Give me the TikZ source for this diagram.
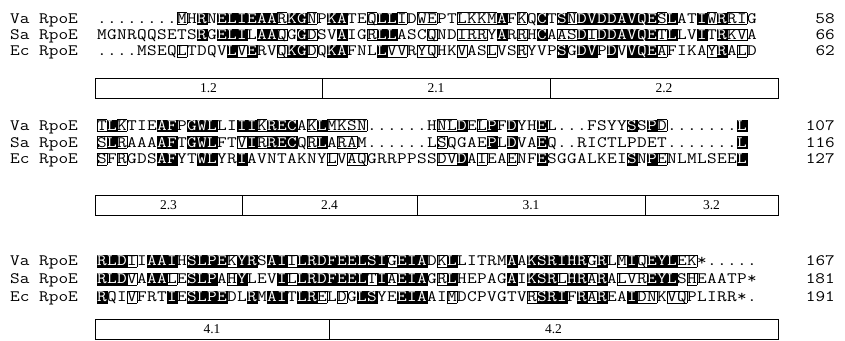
\documentclass[tikz,border=0pt]{standalone}
\usepackage{fontspec}
\usepackage{graphicx}
\newfontfamily\domfont{Liberation Serif}
\newcommand\seqchar[1]{\scalebox{1.18}[1]{#1}}
\tikzset{
  res/.style={inner sep=0pt, minimum width=10pt, minimum height=11.5pt,
    text height=9.7pt, text depth=0pt, font=\fontsize{15.9}{16}\selectfont\ttfamily},
  resblack/.style={res, fill=black, draw=black, line width=0.3pt, text=white},
  resline/.style={line width=0.6pt},
  seqname/.style={res, anchor=west},
  seqnum/.style={res, anchor=east},
  dombox/.style={draw, line width=0.8pt, minimum height=20pt, inner sep=0pt,
    font=\domfont\fontsize{13.5}{14}\selectfont},
}
% one residue: b = black, x = boxed, n = plain
\newcounter{rescol}
\newcommand\seqrow[4]{%
  \def\rowname{#1}\def\rowy{#2}\setcounter{rescol}{0}\def\prevmask{n}%
  \seqstep#3\relax#4\relax}
\def\seqstep#1#2\relax#3#4\relax{%
  \stepcounter{rescol}%
  \getnextmask#4\relax\relax
  \drawres{#1}{#3}%
  \def\prevmask{#3}%
  \ifx\relax#2\relax\else\seqstep#2\relax#4\relax\fi}
\def\getnextmask#1#2\relax{\def\nextmask{#1}}
\def\drawres#1#2{%
  \edef\resx{\the\numexpr92+10*\value{rescol}\relax}%
  \edef\resn{\rowname-\arabic{rescol}}%
  \if#2b%
    \node[resblack] (\resn) at (\resx,\rowy) {\seqchar{#1}};%
  \else
    \node[res] (\resn) at (\resx,\rowy) {\seqchar{#1}};%
  \fi
  \if#2x%
    \draw[resline] (\resn.north west) -- (\resn.north east)
      (\resn.south west) -- (\resn.south east);%
    \if\prevmask x\else\draw[resline] (\resn.north west) -- (\resn.south west);\fi
    \if\nextmask x\else\draw[resline] (\resn.north east) -- (\resn.south east);\fi
  \fi}

\begin{document}
\begin{tikzpicture}[x=1pt,y=-1pt]
\useasboundingbox (0,0) rectangle (845,340);

% residues 1-66
\node[seqname] (name-va1) at (10,18.5) {\seqchar{Va RpoE}};
\node[seqname] (name-sa1) at (10,34.8) {\seqchar{Sa RpoE}};
\node[seqname] (name-ec1) at (10,51.1) {\seqchar{Ec RpoE}};
\seqrow{va1}{18.5}{........MH RNELIEAARK GNPKATEQLL IDWEPTLKKM AFKQCTSNDV DDAVQESLAT IWRRIG}
                  {nnnnnnnnxn bnbbbbbbxb bxnbbnnxbb xnxxnnxxxx bnxnbnbxbb bbbbbbxbnn bxbxxn}
\seqrow{sa1}{34.8}{MGNRQQSETS RGELILAAQG GDSVAIGRLL ASCQNDIRRY ARRHCAASDI DDAVQETLLV ITRKVA}
                  {nnnnnnnnnn bnbbbnbbxn bxnnbnnxbb nnnxnnxxxn bnxnbnxxbx bbbbbbxbnn bnbxxn}
\seqrow{ec1}{51.1}{....MSEQLT DQVLVERVQK GDQKAFNLLV VRYQHKVASL VSRYVPSGDV PDVVQEAFIK AYRALD}
                  {nnnnnnnnxn nnnbxbnnxb bxnbbnnnbx xnxxnnxnnx nnxnnnbnbb nbnbbbxnnn nxbnxn}
\node[seqnum] (num-va1) at (835,18.5) {\seqchar{58}};
\node[seqnum] (num-sa1) at (835,34.8) {\seqchar{66}};
\node[seqnum] (num-ec1) at (835,51.1) {\seqchar{62}};
\foreach \xa/\xb/\lab [count=\k] in {95/322/1.2, 322/550/2.1, 550/778/2.2}
  \node[dombox, minimum width={\xb-\xa}] (dom1-\k) at ({(\xa+\xb)/2},88.5) {\lab};

% residues 59-127
\node[seqname] (name-va2) at (10,125.5) {\seqchar{Va RpoE}};
\node[seqname] (name-sa2) at (10,142.3) {\seqchar{Sa RpoE}};
\node[seqname] (name-ec2) at (10,159) {\seqchar{Ec RpoE}};
\seqrow{va2}{125.5}{TLKTIEAFPG WLLIIIKREC AKLMKSN... ...HNLDELP FDYHEL...F SYYSSPD... ....L}
                   {xbxnnnbbnb bbnnbbxbbb nxbxxxxnnn nnnnxxbnxb nbnnbnnnnn nnnbnbxnnn nnnnb}
\seqrow{sa2}{142.3}{SLRAAAAFTG WLFTVIRREC QRLARAM... ...LSQGAEP LDVAEQ..RI CTLPDET... ....L}
                   {xbxnnnbbnb bbnnxbxbbb nxbnxxnnnn nnnnxnnnnb nbnnbnnnnn nnnnnnnnnn nnnnb}
\seqrow{ec2}{159}{SFRGDSAFYT WLYRIAVNTA KNYLVAQGRR PPSSDVDAIE AENFESGGAL KEISNPENLM LSEEL}
                 {xnxnnnbbnn bbnnbnnnnn nnnxnxxnnn nnnnxxbnxn nxnnbnnnnn nnnbnbxnnn nnnnb}
\node[seqnum] (num-va2) at (835,125.5) {\seqchar{107}};
\node[seqnum] (num-sa2) at (835,142.3) {\seqchar{116}};
\node[seqnum] (num-ec2) at (835,159) {\seqchar{127}};
\foreach \xa/\xb/\lab [count=\k] in {95/242/2.3, 242/417/2.4, 417/645/3.1, 645/778/3.2}
  \node[dombox, minimum width={\xb-\xa}] (dom2-\k) at ({(\xa+\xb)/2},205.5) {\lab};

% residues 108-191
\node[seqname] (name-va3) at (10,261) {\seqchar{Va RpoE}};
\node[seqname] (name-sa3) at (10,279) {\seqchar{Sa RpoE}};
\node[seqname] (name-ec3) at (10,297) {\seqchar{Ec RpoE}};
\seqrow{va3}{261}{RLDIIAAIHS LPEKYRSAII LRDFEELSIG EIADKLLITR MAAKSRIHRG RLMIQEYLEK *.....}
                 {bbbxnbbbnb bbbxbbnbbx bbbbbbbbbx bbbnxbnnnn nbnbbbbbbx bnxbxbbbxx nnnnnn}
\seqrow{sa3}{279}{RLDVAAALES LPAHYLEVIL LRDFEELTIA EIAGRLHEPA GAIKSRLHRA RALVREYLSH EAATP*}
                 {bbbxnbbxnb bbnxbnnnbx bbbbbbbxbx bbbnxbnnnn nbnbbbxbbx bnxxxbbbnx nnnnnn}
\seqrow{ec3}{297}{RQIVFRTIES LPEDLRMAIT LRELDGLSYE EIAAIMDCPV GTVRSRIFRA REAIDNKVQP LIRR*.}
                 {bnnxnnnbnb bbbnnbnbbn bbxnxnbbnn bbbnnxnnnn nnnxbbbnbx bnnbxxnxxn nnnnnn}
\node[seqnum] (num-va3) at (835,261) {\seqchar{167}};
\node[seqnum] (num-sa3) at (835,279) {\seqchar{181}};
\node[seqnum] (num-ec3) at (835,297) {\seqchar{191}};
\foreach \xa/\xb/\lab [count=\k] in {95/329/4.1, 329/778/4.2}
  \node[dombox, minimum width={\xb-\xa}] (dom3-\k) at ({(\xa+\xb)/2},329.5) {\lab};
\end{tikzpicture}
\end{document}
